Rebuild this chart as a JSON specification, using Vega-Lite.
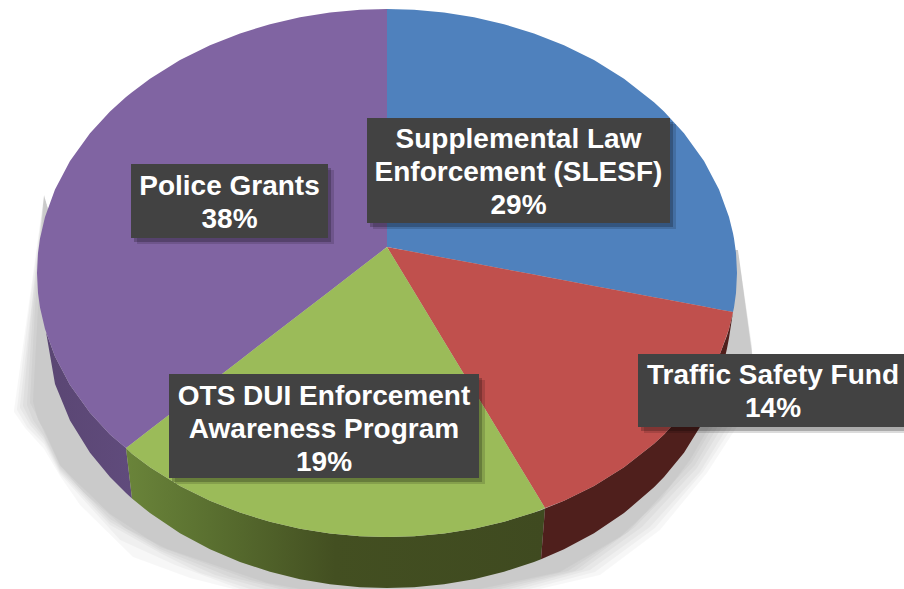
{
"$schema":"https://vega.github.io/schema/vega-lite/v6.json",
"width":904,"height":589,"padding":0,"autosize":{"type":"none"},
"background":"white",
"config":{"view":{"stroke":null}},
"datasets":{
"shadow":[
{"level":"A","x":14,"y0":410,"y1":412},{"level":"A","x":25,"y0":331,"y1":428},{"level":"A","x":44,"y0":195,"y1":449},{"level":"A","x":60,"y0":250,"y1":476},{"level":"A","x":80,"y0":250,"y1":505},{"level":"A","x":133,"y0":250,"y1":557},{"level":"A","x":190,"y0":250,"y1":578},{"level":"A","x":233,"y0":250,"y1":589},{"level":"A","x":540,"y0":250,"y1":589},{"level":"A","x":600,"y0":250,"y1":575},{"level":"A","x":660,"y0":250,"y1":530},{"level":"A","x":707,"y0":250,"y1":473},{"level":"A","x":738,"y0":250,"y1":425},{"level":"A","x":754,"y0":365,"y1":372},
{"level":"AB","x":17,"y0":408,"y1":410},{"level":"AB","x":27,"y0":325,"y1":427},{"level":"AB","x":44,"y0":195,"y1":444},{"level":"AB","x":60,"y0":250,"y1":474},{"level":"AB","x":70,"y0":250,"y1":485},{"level":"AB","x":120,"y0":250,"y1":540},{"level":"AB","x":175,"y0":250,"y1":565},{"level":"AB","x":240,"y0":250,"y1":589},{"level":"AB","x":530,"y0":250,"y1":589},{"level":"AB","x":595,"y0":250,"y1":572},{"level":"AB","x":655,"y0":250,"y1":528},{"level":"AB","x":703,"y0":250,"y1":472},{"level":"AB","x":738,"y0":250,"y1":418},{"level":"AB","x":753,"y0":362,"y1":370},
{"level":"B","x":20,"y0":405,"y1":408},{"level":"B","x":30,"y0":318,"y1":425},{"level":"B","x":44,"y0":195,"y1":441},{"level":"B","x":60,"y0":250,"y1":472},{"level":"B","x":110,"y0":250,"y1":525},{"level":"B","x":160,"y0":250,"y1":553},{"level":"B","x":200,"y0":250,"y1":573},{"level":"B","x":250,"y0":250,"y1":589},{"level":"B","x":520,"y0":250,"y1":589},{"level":"B","x":590,"y0":250,"y1":570},{"level":"B","x":650,"y0":250,"y1":527},{"level":"B","x":700,"y0":250,"y1":472},{"level":"B","x":738,"y0":250,"y1":410},{"level":"B","x":753,"y0":358,"y1":368},
{"level":"BC","x":23,"y0":404,"y1":406},{"level":"BC","x":31,"y0":315,"y1":422},{"level":"BC","x":44,"y0":195,"y1":438},{"level":"BC","x":60,"y0":250,"y1":470},{"level":"BC","x":110,"y0":250,"y1":522},{"level":"BC","x":160,"y0":250,"y1":551},{"level":"BC","x":215,"y0":250,"y1":575},{"level":"BC","x":265,"y0":250,"y1":589},{"level":"BC","x":510,"y0":250,"y1":589},{"level":"BC","x":582,"y0":250,"y1":570},{"level":"BC","x":642,"y0":250,"y1":527},{"level":"BC","x":697,"y0":250,"y1":468},{"level":"BC","x":738,"y0":250,"y1":401},{"level":"BC","x":752,"y0":355,"y1":366},
{"level":"C","x":27,"y0":403,"y1":405},{"level":"C","x":33,"y0":310,"y1":420},{"level":"C","x":44,"y0":195,"y1":436},{"level":"C","x":60,"y0":250,"y1":468},{"level":"C","x":110,"y0":250,"y1":519},{"level":"C","x":160,"y0":250,"y1":549},{"level":"C","x":230,"y0":250,"y1":577},{"level":"C","x":280,"y0":250,"y1":589},{"level":"C","x":500,"y0":250,"y1":589},{"level":"C","x":575,"y0":250,"y1":571},{"level":"C","x":635,"y0":250,"y1":527},{"level":"C","x":695,"y0":250,"y1":465},{"level":"C","x":738,"y0":250,"y1":392},{"level":"C","x":752,"y0":352,"y1":365},
{"level":"CD","x":30,"y0":401,"y1":403},{"level":"CD","x":35,"y0":308,"y1":412},{"level":"CD","x":44,"y0":195,"y1":432},{"level":"CD","x":60,"y0":250,"y1":466},{"level":"CD","x":110,"y0":250,"y1":514},{"level":"CD","x":160,"y0":250,"y1":547},{"level":"CD","x":250,"y0":250,"y1":580},{"level":"CD","x":290,"y0":250,"y1":589},{"level":"CD","x":490,"y0":250,"y1":589},{"level":"CD","x":568,"y0":250,"y1":571},{"level":"CD","x":628,"y0":250,"y1":532},{"level":"CD","x":692,"y0":250,"y1":462},{"level":"CD","x":738,"y0":250,"y1":384},{"level":"CD","x":752,"y0":348,"y1":363},
{"level":"D","x":33,"y0":400,"y1":402},{"level":"D","x":38,"y0":307,"y1":420},{"level":"D","x":44,"y0":195,"y1":430},{"level":"D","x":60,"y0":250,"y1":465},{"level":"D","x":83,"y0":250,"y1":492},{"level":"D","x":125,"y0":250,"y1":528},{"level":"D","x":167,"y0":250,"y1":549},{"level":"D","x":267,"y0":250,"y1":583},{"level":"D","x":300,"y0":250,"y1":589},{"level":"D","x":480,"y0":250,"y1":589},{"level":"D","x":560,"y0":250,"y1":572},{"level":"D","x":620,"y0":250,"y1":537},{"level":"D","x":660,"y0":250,"y1":500},{"level":"D","x":690,"y0":250,"y1":460},{"level":"D","x":725,"y0":250,"y1":400},{"level":"D","x":738,"y0":250,"y1":375},{"level":"D","x":752,"y0":345,"y1":362}
],
"sidePurple":[{"x":46,"y0":332,"y1":332},{"x":55,"y0":356.6,"y1":384},{"x":70,"y0":384.9,"y1":420.4},{"x":90,"y0":412.7,"y1":452.7},{"x":110,"y0":434.4,"y1":477},{"x":126,"y0":448,"y1":493},{"x":132,"y0":498.5,"y1":498.5}],
"sideGreen":[{"x":126,"y0":448,"y1":448},{"x":132,"y0":453.8,"y1":498.5},{"x":150,"y0":467.3,"y1":513.1},{"x":180,"y0":485.9,"y1":533.2},{"x":210,"y0":500.8,"y1":549.3},{"x":240,"y0":512.6,"y1":561.9},{"x":270,"y0":521.8,"y1":571.8},{"x":300,"y0":528.7,"y1":579.2},{"x":330,"y0":533.5,"y1":584.2},{"x":360,"y0":536.2,"y1":587.2},{"x":387,"y0":537,"y1":588},{"x":414,"y0":536.2,"y1":587.2},{"x":444,"y0":533.5,"y1":584.2},{"x":474,"y0":528.7,"y1":579.2},{"x":504,"y0":521.8,"y1":571.8},{"x":534,"y0":512.6,"y1":561.9},{"x":541,"y0":510.2,"y1":559.2},{"x":545,"y0":508.6,"y1":508.6}],
"sideRed":[{"x":541,"y0":559.2,"y1":559.2},{"x":545,"y0":508.6,"y1":557.6},{"x":564,"y0":500.8,"y1":549.3},{"x":594,"y0":485.9,"y1":533.2},{"x":624,"y0":467.3,"y1":513.1},{"x":654,"y0":443.7,"y1":487.3},{"x":664,"y0":434.4,"y1":477},{"x":684,"y0":412.7,"y1":452.7},{"x":704,"y0":384.9,"y1":420.4},{"x":719,"y0":356.6,"y1":384},{"x":727,"y0":335.6,"y1":348.5},{"x":729,"y0":329,"y1":338},{"x":733,"y0":312,"y1":312}],
"top":[
{"slice":"Police Grants","x":37,"y0":273,"y1":273},{"slice":"Police Grants","x":38,"y0":253,"y1":293},{"slice":"Police Grants","x":40,"y0":238.5,"y1":307.5},{"slice":"Police Grants","x":45,"y0":216.9,"y1":329.1},{"slice":"Police Grants","x":55,"y0":189.4,"y1":356.6},{"slice":"Police Grants","x":70,"y0":161.1,"y1":384.9},{"slice":"Police Grants","x":90,"y0":133.3,"y1":412.7},{"slice":"Police Grants","x":110,"y0":111.6,"y1":434.4},{"slice":"Police Grants","x":126,"y0":97.1,"y1":448},{"slice":"Police Grants","x":132,"y0":92.2,"y1":443.4},{"slice":"Police Grants","x":150,"y0":78.7,"y1":429.5},{"slice":"Police Grants","x":180,"y0":60.1,"y1":406.4},{"slice":"Police Grants","x":210,"y0":45.2,"y1":383.3},{"slice":"Police Grants","x":240,"y0":33.4,"y1":360.2},{"slice":"Police Grants","x":270,"y0":24.2,"y1":336.9},{"slice":"Police Grants","x":300,"y0":17.3,"y1":313.9},{"slice":"Police Grants","x":330,"y0":12.5,"y1":290.9},{"slice":"Police Grants","x":360,"y0":9.8,"y1":267.8},{"slice":"Police Grants","x":387,"y0":9,"y1":247},
{"slice":"Supplemental Law Enforcement (SLESF)","x":387,"y0":9,"y1":247},{"slice":"Supplemental Law Enforcement (SLESF)","x":414,"y0":9.8,"y1":252.1},{"slice":"Supplemental Law Enforcement (SLESF)","x":444,"y0":12.5,"y1":257.7},{"slice":"Supplemental Law Enforcement (SLESF)","x":474,"y0":17.3,"y1":263.3},{"slice":"Supplemental Law Enforcement (SLESF)","x":504,"y0":24.2,"y1":269},{"slice":"Supplemental Law Enforcement (SLESF)","x":534,"y0":33.4,"y1":274.6},{"slice":"Supplemental Law Enforcement (SLESF)","x":564,"y0":45.2,"y1":280.3},{"slice":"Supplemental Law Enforcement (SLESF)","x":594,"y0":60.1,"y1":285.9},{"slice":"Supplemental Law Enforcement (SLESF)","x":624,"y0":78.7,"y1":291.5},{"slice":"Supplemental Law Enforcement (SLESF)","x":654,"y0":102.3,"y1":297.2},{"slice":"Supplemental Law Enforcement (SLESF)","x":664,"y0":111.6,"y1":299},{"slice":"Supplemental Law Enforcement (SLESF)","x":684,"y0":133.3,"y1":302.8},{"slice":"Supplemental Law Enforcement (SLESF)","x":704,"y0":161.1,"y1":306.6},{"slice":"Supplemental Law Enforcement (SLESF)","x":719,"y0":189.4,"y1":309.4},{"slice":"Supplemental Law Enforcement (SLESF)","x":729,"y0":216.9,"y1":311.2},{"slice":"Supplemental Law Enforcement (SLESF)","x":733,"y0":233.2,"y1":312},{"slice":"Supplemental Law Enforcement (SLESF)","x":734,"y0":238.5,"y1":307.5},{"slice":"Supplemental Law Enforcement (SLESF)","x":736,"y0":253,"y1":293},{"slice":"Supplemental Law Enforcement (SLESF)","x":737,"y0":273,"y1":273},
{"slice":"Traffic Safety Fund","x":387,"y0":247,"y1":247},{"slice":"Traffic Safety Fund","x":414,"y0":252.1,"y1":291.6},{"slice":"Traffic Safety Fund","x":444,"y0":257.7,"y1":341.2},{"slice":"Traffic Safety Fund","x":474,"y0":263.3,"y1":390.7},{"slice":"Traffic Safety Fund","x":504,"y0":269,"y1":440.3},{"slice":"Traffic Safety Fund","x":534,"y0":274.6,"y1":489.8},{"slice":"Traffic Safety Fund","x":545,"y0":276.7,"y1":508},{"slice":"Traffic Safety Fund","x":564,"y0":280.3,"y1":500.8},{"slice":"Traffic Safety Fund","x":594,"y0":285.9,"y1":485.9},{"slice":"Traffic Safety Fund","x":624,"y0":291.5,"y1":467.3},{"slice":"Traffic Safety Fund","x":654,"y0":297.2,"y1":443.7},{"slice":"Traffic Safety Fund","x":664,"y0":299,"y1":434.4},{"slice":"Traffic Safety Fund","x":684,"y0":302.8,"y1":412.7},{"slice":"Traffic Safety Fund","x":704,"y0":306.6,"y1":384.9},{"slice":"Traffic Safety Fund","x":719,"y0":309.4,"y1":356.6},{"slice":"Traffic Safety Fund","x":729,"y0":311.2,"y1":329.1},{"slice":"Traffic Safety Fund","x":733,"y0":312,"y1":312},
{"slice":"OTS DUI Enforcement Awareness Program","x":126,"y0":448,"y1":448},{"slice":"OTS DUI Enforcement Awareness Program","x":132,"y0":443.4,"y1":453.8},{"slice":"OTS DUI Enforcement Awareness Program","x":150,"y0":429.5,"y1":467.3},{"slice":"OTS DUI Enforcement Awareness Program","x":180,"y0":406.4,"y1":485.9},{"slice":"OTS DUI Enforcement Awareness Program","x":210,"y0":383.3,"y1":500.8},{"slice":"OTS DUI Enforcement Awareness Program","x":240,"y0":360.2,"y1":512.6},{"slice":"OTS DUI Enforcement Awareness Program","x":270,"y0":336.9,"y1":521.8},{"slice":"OTS DUI Enforcement Awareness Program","x":300,"y0":313.9,"y1":528.7},{"slice":"OTS DUI Enforcement Awareness Program","x":330,"y0":290.9,"y1":533.5},{"slice":"OTS DUI Enforcement Awareness Program","x":360,"y0":267.8,"y1":536.2},{"slice":"OTS DUI Enforcement Awareness Program","x":387,"y0":247,"y1":537},{"slice":"OTS DUI Enforcement Awareness Program","x":414,"y0":291.6,"y1":536.2},{"slice":"OTS DUI Enforcement Awareness Program","x":444,"y0":341.2,"y1":533.5},{"slice":"OTS DUI Enforcement Awareness Program","x":474,"y0":390.7,"y1":528.7},{"slice":"OTS DUI Enforcement Awareness Program","x":504,"y0":440.3,"y1":521.8},{"slice":"OTS DUI Enforcement Awareness Program","x":534,"y0":489.8,"y1":512.6},{"slice":"OTS DUI Enforcement Awareness Program","x":545,"y0":508,"y1":508}
],
"labels":[
{"label":"Police Grants\n38%","share":38,"x0":131,"x1":328,"y0":164,"y1":238,"cx":229.5,"cy":187},
{"label":"Supplemental Law\nEnforcement (SLESF)\n29%","share":29,"x0":367,"x1":670,"y0":118,"y1":223,"cx":518.5,"cy":140},
{"label":"OTS DUI Enforcement\nAwareness Program\n19%","share":19,"x0":169,"x1":479,"y0":374,"y1":478,"cx":324,"cy":397},
{"label":"Traffic Safety Fund\n14%","share":14,"x0":638,"x1":904,"y0":354,"y1":427,"cx":773,"cy":376}
]
},
"layer":[
{"data":{"name":"shadow"},"mark":{"type":"area","color":"#000000","opacity":0.032},
 "encoding":{"x":{"field":"x","type":"quantitative","scale":{"domain":[0,904],"nice":false,"zero":false},"axis":null},"y":{"field":"y0","type":"quantitative","scale":{"domain":[0,589],"nice":false,"zero":false,"reverse":true},"axis":null},"y2":{"field":"y1"},"detail":{"field":"level"}}},
{"data":{"name":"sidePurple"},"mark":{"type":"area","color":{"gradient":"linear","x1":0,"y1":0,"x2":1,"y2":0,"stops":[{"offset":0,"color":"#5a4673"},{"offset":1,"color":"#604b7c"}]}},
 "encoding":{"x":{"field":"x","type":"quantitative"},"y":{"field":"y0","type":"quantitative"},"y2":{"field":"y1"}}},
{"data":{"name":"sideGreen"},"mark":{"type":"area","color":{"gradient":"linear","x1":0,"y1":0,"x2":1,"y2":0,"stops":[{"offset":0,"color":"#6a843a"},{"offset":0.2,"color":"#5a7030"},{"offset":0.5,"color":"#434f21"},{"offset":1,"color":"#3f4a20"}]}},
 "encoding":{"x":{"field":"x","type":"quantitative"},"y":{"field":"y0","type":"quantitative"},"y2":{"field":"y1"}}},
{"data":{"name":"sideRed"},"mark":{"type":"area","color":"#4f1f1c"},
 "encoding":{"x":{"field":"x","type":"quantitative"},"y":{"field":"y0","type":"quantitative"},"y2":{"field":"y1"}}},
{"data":{"name":"top"},"mark":{"type":"area"},
 "encoding":{"x":{"field":"x","type":"quantitative"},"y":{"field":"y0","type":"quantitative"},"y2":{"field":"y1"},
 "color":{"field":"slice","type":"nominal","legend":null,"scale":{"domain":["Police Grants","Supplemental Law Enforcement (SLESF)","Traffic Safety Fund","OTS DUI Enforcement Awareness Program"],"range":["#8064a2","#4f81bd","#c0504d","#9bbb59"]}}}},
{"data":{"name":"labels"},"mark":{"type":"rect","color":"#000000","opacity":0.14,"xOffset":6,"x2Offset":6,"yOffset":6,"y2Offset":6},
 "encoding":{"x":{"field":"x0","type":"quantitative"},"x2":{"field":"x1"},"y":{"field":"y0","type":"quantitative"},"y2":{"field":"y1"}}},
{"data":{"name":"labels"},"mark":{"type":"rect","color":"#000000","opacity":0.22,"xOffset":3,"x2Offset":3,"yOffset":4,"y2Offset":4},
 "encoding":{"x":{"field":"x0","type":"quantitative"},"x2":{"field":"x1"},"y":{"field":"y0","type":"quantitative"},"y2":{"field":"y1"}}},
{"data":{"name":"labels"},"mark":{"type":"rect","color":"#424242"},
 "encoding":{"x":{"field":"x0","type":"quantitative"},"x2":{"field":"x1"},"y":{"field":"y0","type":"quantitative"},"y2":{"field":"y1"}}},
{"data":{"name":"labels"},"mark":{"type":"text","font":"Liberation Sans","fontWeight":"bold","fontSize":28,"color":"#ffffff","align":"center","baseline":"middle","lineBreak":"\n","lineHeight":33},
 "encoding":{"x":{"field":"cx","type":"quantitative"},"y":{"field":"cy","type":"quantitative"},"text":{"field":"label","type":"nominal"}}}
]
}
